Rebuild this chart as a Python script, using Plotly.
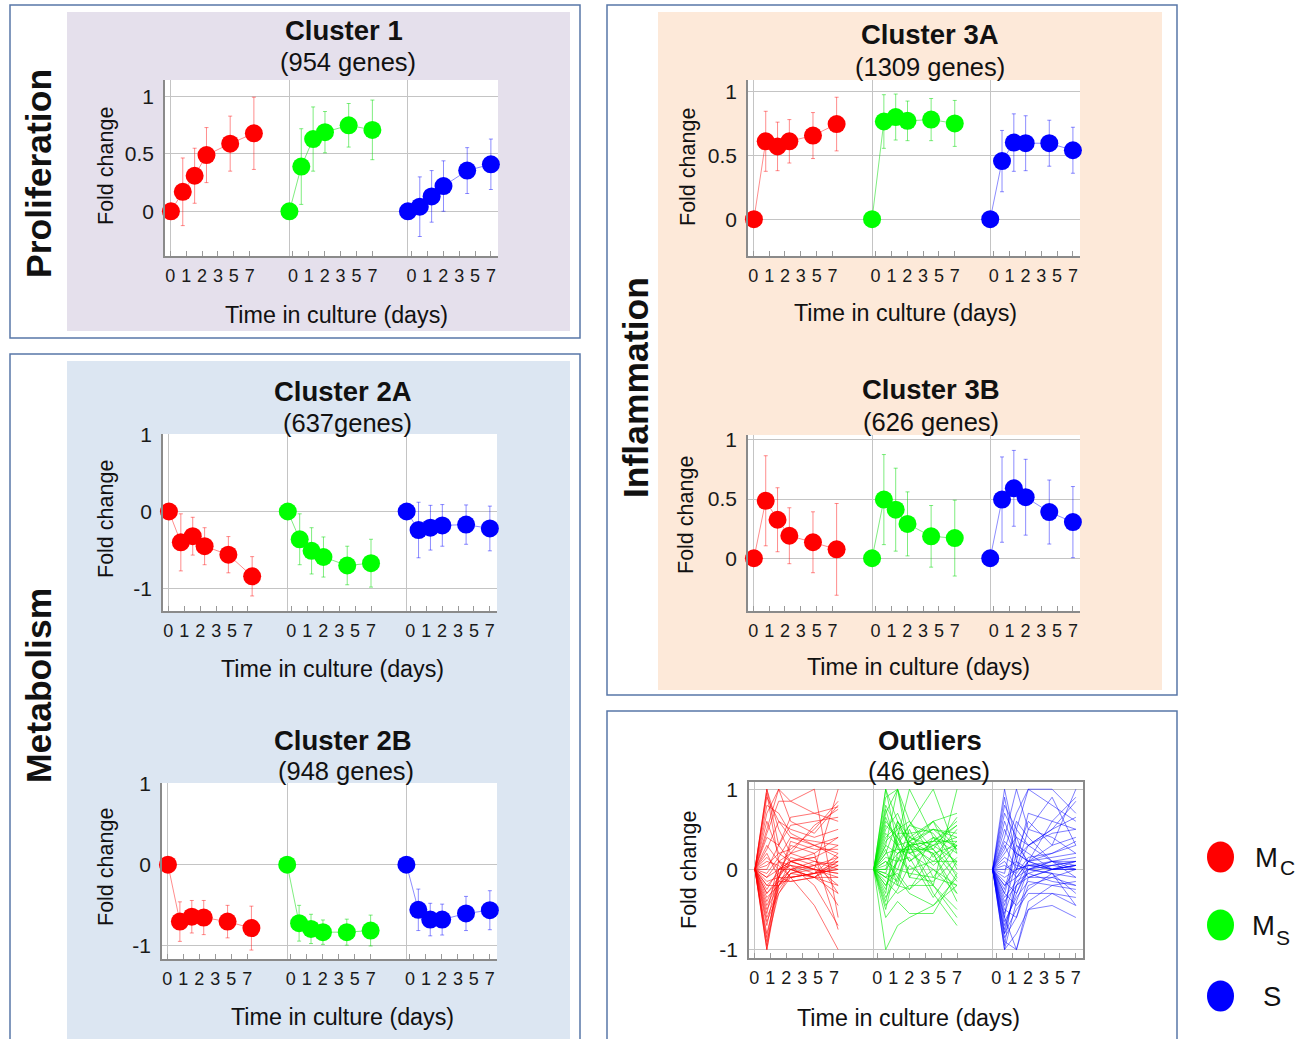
import plotly.graph_objects as go

# ---------------------------------------------------------------- data
DAYS = [0, 1, 2, 3, 5, 7]
DAY_LABELS = ["0", "1", "2", "3", "5", "7"]
CELL_TYPES = ["Mc", "Ms", "S"]

# Cluster 1 (954 genes): mean fold change and error half-width per cell type
c1_mc = [0, 0.17, 0.31, 0.49, 0.59, 0.68]
c1_mc_err = [0, 0.295, 0.24, 0.24, 0.24, 0.315]
c1_ms = [0, 0.39, 0.63, 0.69, 0.75, 0.71]
c1_ms_err = [0, 0.33, 0.28, 0.18, 0.19, 0.26]
c1_s = [0, 0.04, 0.13, 0.22, 0.355, 0.41]
c1_s_err = [0, 0.26, 0.225, 0.22, 0.2, 0.22]

# Cluster 2A (637 genes)
c2a_mc = [0, -0.40, -0.32, -0.45, -0.56, -0.84]
c2a_mc_err = [0, 0.37, 0.245, 0.24, 0.235, 0.255]
c2a_ms = [0, -0.36, -0.51, -0.59, -0.70, -0.67]
c2a_ms_err = [0, 0.33, 0.30, 0.26, 0.25, 0.31]
c2a_s = [0, -0.24, -0.21, -0.18, -0.17, -0.22]
c2a_s_err = [0, 0.36, 0.29, 0.27, 0.255, 0.29]

# Cluster 2B (948 genes)
c2b_mc = [0, -0.70, -0.64, -0.65, -0.70, -0.78]
c2b_mc_err = [0, 0.243, 0.20, 0.21, 0.20, 0.27]
c2b_ms = [0, -0.72, -0.79, -0.83, -0.83, -0.81]
c2b_ms_err = [0, 0.22, 0.18, 0.15, 0.16, 0.19]
c2b_s = [0, -0.555, -0.675, -0.675, -0.60, -0.56]
c2b_s_err = [0, 0.255, 0.20, 0.19, 0.21, 0.24]

# Cluster 3A (1309 genes)
c3a_mc = [0, 0.61, 0.57, 0.61, 0.655, 0.745]
c3a_mc_err = [0, 0.235, 0.19, 0.17, 0.18, 0.21]
c3a_ms = [0, 0.765, 0.80, 0.77, 0.78, 0.75]
c3a_ms_err = [0, 0.21, 0.18, 0.155, 0.165, 0.18]
c3a_s = [0, 0.455, 0.60, 0.595, 0.595, 0.54]
c3a_s_err = [0, 0.24, 0.225, 0.215, 0.18, 0.18]

# Cluster 3B (626 genes)
c3b_mc = [0, 0.485, 0.325, 0.19, 0.135, 0.075]
c3b_mc_err = [0, 0.38, 0.27, 0.236, 0.257, 0.387]
c3b_ms = [0, 0.495, 0.41, 0.29, 0.185, 0.17]
c3b_ms_err = [0, 0.38, 0.35, 0.27, 0.26, 0.32]
c3b_s = [0, 0.495, 0.59, 0.515, 0.39, 0.305]
c3b_s_err = [0, 0.36, 0.32, 0.32, 0.27, 0.30]

# Outliers (46 genes): individual gene profiles per cell type
out_mc = [
    [0, -1.0, -0.2, 0.0, -0.1, 0.1], [0, -1.0, -0.1, 0.1, 0.0, -0.05],
    [0, -0.95, 0.0, 0.05, -0.05, 0.2], [0, -0.9, -0.3, -0.1, -0.05, 0.0],
    [0, -0.8, -0.2, 0.1, 0.15, 0.3], [0, -0.7, 0.0, 0.0, -0.1, -0.2],
    [0, -0.6, -0.25, -0.05, 0.05, 0.1], [0, -0.5, -0.2, 0.0, 0.05, 0.15],
    [0, -0.45, -0.15, -0.15, -0.1, -0.3], [0, -0.35, -0.2, -0.1, -0.05, 0.05],
    [0, -0.3, -0.15, 0.0, 0.1, 0.0], [0, -0.2, -0.2, -0.05, -0.1, -0.1],
    [0, -0.2, -0.05, 0.05, 0.0, -0.45], [0, -0.15, -0.1, -0.1, -0.45, -1.0],
    [0, -0.1, 0.1, 0.05, -0.2, -0.7], [0, -0.1, 0.0, 0.2, 0.3, 0.4],
    [0, -0.05, 0.15, 0.4, 0.3, 0.2], [0, 0.0, 0.3, 0.55, 0.6, 0.65],
    [0, 1.0, 0.3, 0.1, 0.0, -0.1], [0, 1.0, 0.5, 0.2, 0.1, 0.05],
    [0, 0.95, 0.1, -0.1, -0.05, 0.0], [0, 0.9, 0.6, 0.4, 0.35, 0.3],
    [0, 0.8, 0.7, 0.45, 0.3, 0.15], [0, 0.7, 1.0, 0.85, 1.0, -0.6],
    [0, 0.6, 0.2, 0.25, 0.5, 0.85], [0, 0.5, 1.0, 0.6, 0.45, 0.8],
    [0, 0.4, 0.3, 0.65, 0.7, 0.78], [0, 0.3, 0.1, 0.2, 0.55, 0.75],
    [0, 0.25, 0.6, 0.5, 0.4, 0.5], [0, 0.2, -0.1, 0.35, 0.25, 0.25],
    [0, 0.15, 0.0, 0.1, 0.2, 0.4], [0, 0.1, 0.05, -0.1, -0.05, 0.1],
    [0, 0.05, 0.2, 0.1, 0.15, -0.3], [0, -0.25, 0.0, 0.1, 0.0, 1.0],
    [0, -0.4, -0.1, 0.15, 0.05, -0.2], [0, -0.55, 0.1, 0.0, -0.1, 0.05],
    [0, -0.65, -0.3, -0.05, 0.0, -0.05], [0, -0.85, -0.1, -0.15, -0.1, 0.15],
    [0, 0.45, 0.85, 0.85, 0.7, 0.6], [0, -0.3, -0.1, 0.3, 0.2, -0.75],
]
out_ms = [
    [0, 1.0, 0.3, 0.35, 0.2, 0.3], [0, 1.0, 0.6, 0.3, 0.5, 0.4],
    [0, 0.9, 1.0, 0.4, 0.3, 0.1], [0, 0.8, 0.5, 0.6, 0.25, 0.65],
    [0, 0.7, 1.0, 0.2, 0.0, -0.2], [0, 0.6, 0.4, 1.0, 0.4, 0.3],
    [0, 0.5, 0.7, 0.35, 0.6, 0.7], [0, 0.45, 0.3, 0.55, 1.0, 0.2],
    [0, 0.3, 0.2, 0.3, 0.35, 0.55], [0, 0.2, 0.6, 0.3, -0.2, 1.0],
    [0, 0.15, 0.1, 0.35, 0.5, 0.25], [0, 0.1, -0.1, 0.3, 0.1, 0.35],
    [0, 0.05, 0.3, -0.1, 0.4, -0.1], [0, 0.0, 0.2, 0.25, 0.6, 0.0],
    [0, -0.05, 0.4, 0.1, 0.3, 0.4], [0, -0.1, -0.2, 0.3, 0.2, -0.4],
    [0, -0.1, 0.1, 0.5, -0.1, 0.3], [0, -0.15, -0.3, -0.2, -0.2, -0.6],
    [0, -0.2, 0.0, 0.4, 0.25, -0.15], [0, -0.3, 0.6, 0.4, 0.6, 0.25],
    [0, -0.35, -0.1, -0.3, -0.45, -0.1], [0, -0.4, 0.2, 0.3, -0.3, -0.7],
    [0, -0.5, 0.15, 0.0, 0.1, 0.1], [0, -1.0, -0.7, -0.6, -0.45, -0.2],
    [0, -0.6, -0.4, -0.55, -0.55, -0.05], [0, 0.25, -0.2, -0.25, 0.0, -0.3],
    [0, 0.35, 0.5, -0.1, -0.15, 0.15], [0, 0.55, 0.4, 0.2, 0.3, 0.55],
    [0, -0.25, 0.35, 0.55, 0.45, 0.05], [0, 0.1, 0.0, -0.05, -0.1, -0.2],
    [0, 0.4, 0.55, 0.3, 0.35, 0.35], [0, 0.65, 0.3, 0.1, 0.35, 0.6],
    [0, -0.05, -0.15, 0.35, 0.05, 0.3], [0, 0.2, 0.25, 0.25, 0.25, -0.05],
    [0, 0.0, 0.45, 0.45, 0.5, 0.45], [0, -0.45, -0.25, 0.05, -0.2, -0.5],
    [0, 0.75, 0.25, 0.2, 0.4, 0.2], [0, -0.2, 0.1, 0.15, -0.35, 0.1],
    [0, 0.3, 1.0, 0.6, 0.15, 0.5], [0, -0.1, -0.05, -0.25, 0.2, -0.3],
]
out_s = [
    [0, 1.0, 0.3, 0.1, 0.0, 0.05], [0, 0.8, 0.5, 1.0, 0.8, 0.6],
    [0, 0.6, 0.2, 0.1, 0.3, 1.0], [0, 0.4, 1.0, 0.5, 0.9, 0.3],
    [0, 0.3, 0.0, 0.05, 0.05, 0.1], [0, 0.2, 0.4, 0.3, 0.5, 0.85],
    [0, 0.1, -0.1, 0.1, 0.0, 0.0], [0, 0.0, 0.1, 0.0, 0.1, 0.15],
    [0, -0.1, 0.0, 0.05, 0.0, 0.05], [0, -0.2, -0.1, 0.0, -0.05, -0.1],
    [0, -0.3, 0.2, 0.1, 0.2, 0.35], [0, -0.4, -0.2, -0.1, 0.0, 0.05],
    [0, -0.5, -0.6, -0.2, -0.1, -0.2], [0, -0.6, -1.0, -0.4, -0.2, -0.25],
    [0, -0.7, -0.3, 0.0, 0.05, 0.1], [0, -0.8, -0.5, -0.3, -0.3, -0.45],
    [0, -0.9, -1.0, -0.5, -0.3, -0.35], [0, -1.0, -0.4, 0.0, 0.1, 0.0],
    [0, -1.0, -0.8, -0.5, -0.45, -0.6], [0, -0.95, 0.0, 0.5, 0.4, 0.2],
    [0, -0.75, -0.2, 0.1, 0.6, 0.5], [0, -0.6, 0.5, 0.3, 0.1, -0.1],
    [0, -0.45, 0.1, 0.7, 0.6, 0.9], [0, -0.35, -0.15, -0.05, -0.15, -0.2],
    [0, -0.25, 0.3, 0.2, 0.0, 0.0], [0, -0.15, -0.3, 0.05, 0.1, 0.1],
    [0, -0.05, 0.6, 0.4, 0.1, 0.05], [0, 0.05, -0.05, 0.15, 0.2, 0.3],
    [0, 0.15, 0.05, 0.0, -0.05, -0.3], [0, 0.25, 0.7, 1.0, 1.0, 0.7],
    [0, 0.5, 0.15, 0.3, 0.45, 0.5], [0, 0.7, 0.4, 0.05, 0.0, 0.1],
    [0, 0.9, 0.1, -0.1, -0.1, 0.0], [0, -0.55, -0.1, 0.1, 0.15, 0.2],
    [0, -0.85, -0.6, -0.1, 0.0, 0.05], [0, -0.65, -0.35, -0.15, -0.2, -0.15],
    [0, 0.35, 0.2, 0.6, 0.3, 0.4], [0, -0.2, 0.0, 0.3, 0.5, 0.65],
    [0, -0.3, -0.45, -0.25, -0.05, -0.45], [0, -0.8, -0.2, -0.05, 0.05, 0.0],
]

# ---------------------------------------------------------------- styling
W, H = 1308, 1039
FONT = "Liberation Sans, Arial, sans-serif"
SOLID = {"Mc": "#FF0000", "Ms": "#00FF00", "S": "#0000FF"}
FAINT = {"Mc": "rgba(255,0,0,0.45)", "Ms": "rgba(0,220,0,0.5)", "S": "rgba(0,0,255,0.45)"}
THIN = {"Mc": "rgba(255,0,0,0.55)", "Ms": "rgba(0,235,0,0.6)", "S": "rgba(0,0,255,0.5)"}
GRID = "#c4c4c4"
AXIS = "#8a8a8a"
BORDER = "#5877a8"

GROUP_SPACING = 10          # x offset between the three cell-type blocks
TICK_STEP = 1.34            # spacing of the day labels under each block
TICK_START = [-0.05, 0.3, 0.3]
X_RANGE = [-0.5, 27.6]


def px(x):
    return x / W


def py(y):
    return 1 - y / H


# subplot frames in pixels: (left, right, top, bottom), y range, y ticks
PANELS = {
    1: dict(box=(165, 498, 80, 256), yr=[-0.39, 1.145], yt=[0, 0.5, 1]),
    2: dict(box=(163, 497, 434, 611), yr=[-1.29, 1.005], yt=[-1, 0, 1]),
    3: dict(box=(162, 497, 783, 959), yr=[-1.16, 1.005], yt=[-1, 0, 1]),
    4: dict(box=(748, 1080, 80, 256), yr=[-0.288, 1.09], yt=[0, 0.5, 1]),
    5: dict(box=(748, 1080, 435, 611), yr=[-0.445, 1.04], yt=[0, 0.5, 1]),
    6: dict(box=(749, 1083, 782, 958), yr=[-1.105, 1.09], yt=[-1, 0, 1]),
}

CLUSTERS = {
    1: [(c1_mc, c1_mc_err), (c1_ms, c1_ms_err), (c1_s, c1_s_err)],
    2: [(c2a_mc, c2a_mc_err), (c2a_ms, c2a_ms_err), (c2a_s, c2a_s_err)],
    3: [(c2b_mc, c2b_mc_err), (c2b_ms, c2b_ms_err), (c2b_s, c2b_s_err)],
    4: [(c3a_mc, c3a_mc_err), (c3a_ms, c3a_ms_err), (c3a_s, c3a_s_err)],
    5: [(c3b_mc, c3b_mc_err), (c3b_ms, c3b_ms_err), (c3b_s, c3b_s_err)],
}
OUTLIERS = [out_mc, out_ms, out_s]

fig = go.Figure()

# mean profiles with error bars
for idx, groups in CLUSTERS.items():
    for g, (vals, errs) in enumerate(groups):
        ct = CELL_TYPES[g]
        fig.add_trace(go.Scatter(
            x=[g * GROUP_SPACING + d for d in DAYS], y=vals,
            mode="lines+markers",
            line=dict(color=FAINT[ct], width=1),
            marker=dict(size=18, color=SOLID[ct], line=dict(width=0)),
            error_y=dict(type="data", array=errs, visible=True,
                         color=FAINT[ct], thickness=1, width=2),
            cliponaxis=False, showlegend=False, hoverinfo="skip",
            xaxis=f"x{idx}", yaxis=f"y{idx}",
        ))

# outlier gene profiles
for g, profiles in enumerate(OUTLIERS):
    ct = CELL_TYPES[g]
    xs, ys = [], []
    for prof in profiles:
        xs += [g * GROUP_SPACING + d for d in DAYS] + [None]
        ys += list(prof) + [None]
    fig.add_trace(go.Scatter(
        x=xs, y=ys, mode="lines", connectgaps=False,
        line=dict(color=THIN[ct], width=1),
        showlegend=False, hoverinfo="skip", xaxis="x6", yaxis="y6",
    ))

tickvals = [g * GROUP_SPACING + TICK_START[g] + k * TICK_STEP
            for g in range(3) for k in range(len(DAY_LABELS))]
ticktext = DAY_LABELS * 3

layout = {}
for idx, p in PANELS.items():
    l, r, t, b = p["box"]
    mirror = idx == 6
    layout[f"xaxis{idx}"] = dict(
        domain=[px(l), px(r)], anchor=f"y{idx}", range=X_RANGE,
        automargin=False,
        tickmode="array", tickvals=tickvals, ticktext=ticktext,
        ticks="inside", ticklen=5, tickwidth=1, tickcolor="#9a9a9a",
        tickfont=dict(family=FONT, size=18, color="#1a1a1a"),
        ticklabelstandoff=3,
        showgrid=False, zeroline=False,
        showline=True, linecolor=AXIS, linewidth=1.5, mirror=mirror,
        minor=dict(tickmode="array", tickvals=[0, GROUP_SPACING, 2 * GROUP_SPACING],
                   showgrid=True, gridcolor=GRID, gridwidth=1, ticks=""),
        fixedrange=True,
    )
    layout[f"yaxis{idx}"] = dict(
        domain=[py(b), py(t)], anchor=f"x{idx}", range=p["yr"],
        automargin=False,
        tickmode="array", tickvals=p["yt"],
        ticktext=[("%g" % v) for v in p["yt"]],
        ticks="", tickfont=dict(family=FONT, size=21, color="#1a1a1a"),
        ticklabelstandoff=5,
        showgrid=True, gridcolor=GRID, gridwidth=1, zeroline=False,
        showline=True, linecolor=AXIS, linewidth=1.5, mirror=mirror,
        fixedrange=True,
    )

shapes = []


def rect(x0, y0, x1, y1, fill=None, line=None, lw=0):
    shapes.append(dict(
        type="rect", xref="paper", yref="paper", layer="below",
        x0=px(x0), x1=px(x1), y0=py(y1), y1=py(y0),
        fillcolor=fill if fill else "rgba(0,0,0,0)",
        line=dict(color=line if line else "rgba(0,0,0,0)", width=lw),
    ))


# category boxes and their tinted panels
rect(10, 5, 580, 338, line=BORDER, lw=1.5)
rect(67, 12, 570, 331, fill="#e5e0ec")
rect(10, 354, 580, 1045, line=BORDER, lw=1.5)
rect(67, 361, 570, 1045, fill="#dce6f2")
rect(607, 5, 1177, 695, line=BORDER, lw=1.5)
rect(658, 12, 1162, 690, fill="#fde9d9")
rect(607, 711, 1177, 1045, line=BORDER, lw=1.5)
# white plotting areas
for p in PANELS.values():
    l, r, t, b = p["box"]
    rect(l, t, r, b, fill="#ffffff")

# legend swatches
for ct, cy in zip(CELL_TYPES, [857, 925, 996]):
    shapes.append(dict(
        type="circle", xref="paper", yref="paper",
        x0=px(1207), x1=px(1234), y0=py(cy + 15.5), y1=py(cy - 15.5),
        fillcolor=SOLID[ct], line=dict(width=0),
    ))

annotations = []


def label(text, x, y, size, bold=False, angle=0, xanchor="center"):
    annotations.append(dict(
        text=f"<b>{text}</b>" if bold else text,
        x=px(x), y=py(y), xref="paper", yref="paper",
        xanchor=xanchor, yanchor="middle", showarrow=False,
        textangle=angle, font=dict(family=FONT, size=size, color="#111111"),
    ))


label("Proliferation", 39, 174, 35.5, bold=True, angle=-90)
label("Metabolism", 39, 686, 35.5, bold=True, angle=-90)
label("Inflammation", 636, 388, 35.5, bold=True, angle=-90)

TITLES = [
    ("Cluster 1", "(954 genes)", 344, 30, 348, 62),
    ("Cluster 2A", "(637genes)", 343, 391, 347, 423),
    ("Cluster 2B", "(948 genes)", 343, 740, 346, 771),
    ("Cluster 3A", "(1309 genes)", 930, 35, 930, 67),
    ("Cluster 3B", "(626 genes)", 931, 390, 931, 422),
    ("Outliers", "(46 genes)", 930, 740, 929, 771),
]
for title, sub, tx, ty, sx, sy in TITLES:
    label(title, tx, ty, 27.5, bold=True)
    label(sub, sx, sy, 25.5)

for x, y in [(336, 315), (332, 669), (342, 1017), (906, 313), (918, 667), (908, 1018)]:
    label("Time in culture (days)", x, y, 23.3)
for x, y in [(106, 166), (106, 519), (106, 867), (688, 167), (686, 515), (689, 870)]:
    label("Fold change", x, y, 21.5, angle=-90)

# legend text
label("M", 1253, 857, 27.5, xanchor="left")
label("C", 1278, 867, 21, xanchor="left")
label("M", 1250, 925, 27.5, xanchor="left")
label("S", 1274, 937, 21, xanchor="left")
label("S", 1261, 996, 27.5, xanchor="left")

fig.update_layout(
    width=W, height=H, margin=dict(l=0, r=0, t=0, b=0, pad=0, autoexpand=False),
    paper_bgcolor="#ffffff", plot_bgcolor="rgba(0,0,0,0)",
    showlegend=False, shapes=shapes, annotations=annotations,
    font=dict(family=FONT),
    **layout,
)

fig.write_html("out.html", config={"displayModeBar": False})
